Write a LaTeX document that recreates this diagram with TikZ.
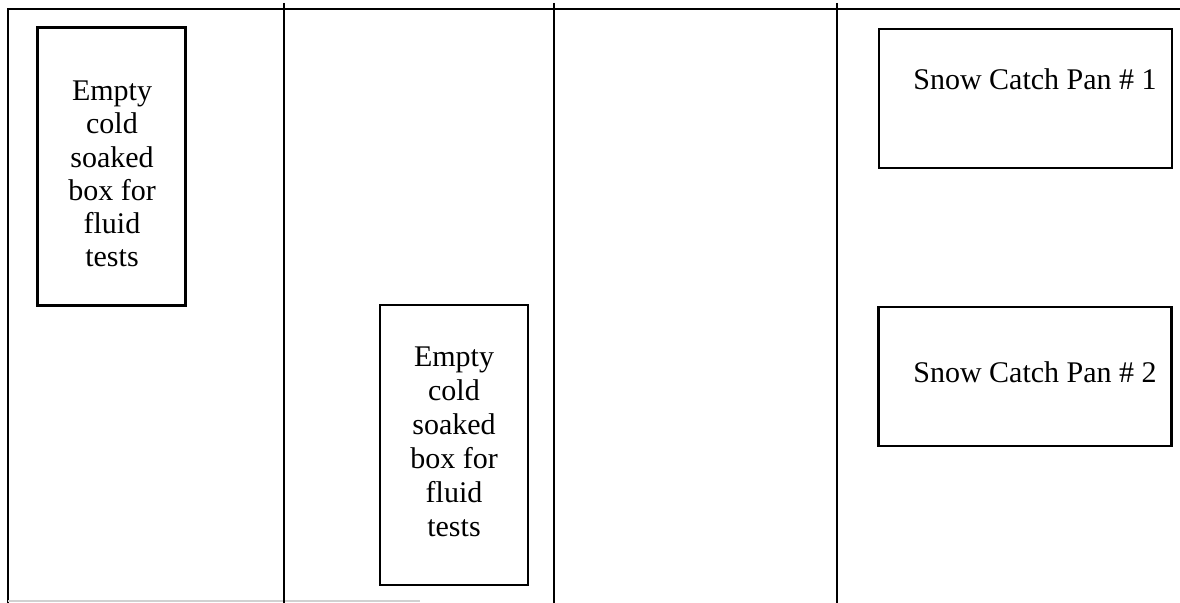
\documentclass[tikz,border=0pt]{standalone}
\usepackage{fontspec}
\setmainfont{Liberation Serif}
\usepackage{tikz}
\usetikzlibrary{shapes, positioning, calc}

\begin{document}
\begin{tikzpicture}[
			x=0.5pt,y=-0.5pt,
			rule/.style={line width=1.2pt},
			bin/.style={draw, line width=1.4pt, inner sep=0pt},
			tall/.style={bin, minimum width=74pt, minimum height=139pt},
			pan/.style={bin, minimum width=146.5pt, minimum height=69.5pt},
			words/.style={align=center, inner sep=0pt, font=\fontsize{15}{16.6}\selectfont},
			panname/.style={anchor=base, inner sep=0pt, font=\fontsize{15}{18}\selectfont}
		]
		\useasboundingbox (0,0) rectangle (1180,603);
		% frame and lanes
		\draw[rule] (8,603) -- (8,9) -- (1180,9);
		\draw[black!18, line width=0.6pt] (8,601) -- (420,601);
		\foreach \xl in {284,554,837}
			\draw[rule] (\xl,3) -- (\xl,603);
		% cold soaked boxes
		\node[tall] (box1) at (111.5,166.5) {};
		\node[words] (box1txt) at (112,174) {Empty\\cold\\soaked\\box for\\fluid\\tests};
		\node[tall, minimum height=140pt] (box2) at (454,445) {};
		\node[words, font=\fontsize{15}{17}\selectfont] (box2txt) at (454,442) {Empty\\cold\\soaked\\box for\\fluid\\tests};
		% catch pans
		\node[pan] (pan1) at (1025.5,98.5) {};
		\node[panname] (pan1txt) at (1035,90) {Snow Catch Pan \# 1};
		\node[pan] (pan2) at (1025,376.5) {};
		\node[panname] (pan2txt) at (1035,383) {Snow Catch Pan \# 2};
	\end{tikzpicture}
\end{document}
